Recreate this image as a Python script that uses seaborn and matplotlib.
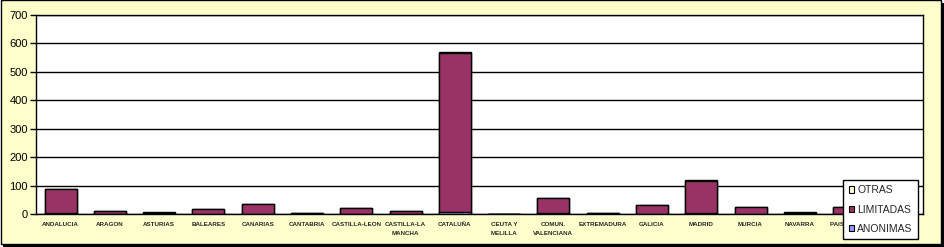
import matplotlib
matplotlib.use("Agg")
import matplotlib.pyplot as plt
from matplotlib.patches import Rectangle, Patch
import seaborn as sns
import pandas as pd
import numpy as np

categories = ["ANDALUCIA", "ARAGON", "ASTURIAS", "BALEARES", "CANARIAS", "CANTABRIA",
              "CASTILLA-LEON", "CASTILLA-LA\nMANCHA", "CATALUÑA", "CEUTA Y\nMELILLA",
              "COMUN.\nVALENCIANA", "EXTREMADURA", "GALICIA", "MADRID", "MURCIA",
              "NAVARRA", "PAIS VASCO", "LA RIOJA"]
anonimas = [5, 1, 2, 1, 1, 1, 1, 1, 8, 0, 2, 1, 1, 4, 1, 2, 1, 1]
limitadas = [82, 9, 3, 15, 34, 2, 20, 9, 557, 0, 53, 2, 31, 113, 23, 3, 23, 4]
otras = [1, 0, 1, 0, 0, 0, 0, 0, 6, 0, 0, 0, 0, 1, 0, 1, 0, 0]

yticks = [0, 100, 200, 300, 400, 500, 600, 700]

C_OTR = "#FFFFCC"
C_LIM = "#993366"
C_ANO = "#9999FF"

df = pd.DataFrame({"cat": categories, "ANONIMAS": anonimas,
                   "LIMITADAS": limitadas, "OTRAS": otras})
df["lev1"] = df["ANONIMAS"]
df["lev2"] = df["ANONIMAS"] + df["LIMITADAS"]
df["lev3"] = df["lev2"] + df["OTRAS"]

sns.set_theme(style="white")
plt.rcParams["font.family"] = ["Liberation Sans", "DejaVu Sans"]

W, H = 944, 247
fig = plt.figure(figsize=(W / 100, H / 100), dpi=100, facecolor="white")

# frame with shadow
fig.patches.append(Rectangle((3 / W, 0), 1 - 3 / W, 1 - 3 / H, transform=fig.transFigure,
                             facecolor="black", edgecolor="none", zorder=0))
fig.patches.append(Rectangle((0.5 / W, 3 / H), (941 - 1) / W, 1 - 3.5 / H,
                             transform=fig.transFigure, facecolor="#FFFFCC",
                             edgecolor="black", linewidth=1.0, zorder=1))

ax = fig.add_axes([36 / W, (H - 214) / H, (923 - 36) / W, (214 - 15) / H])
ax.set_facecolor("white")
ax.set_zorder(2)

bw = 0.65
sns.barplot(data=df, x="cat", y="lev3", order=categories, color=C_OTR, width=bw,
            edgecolor="black", linewidth=1.0, saturation=1, ax=ax, zorder=3)
sns.barplot(data=df, x="cat", y="lev2", order=categories, color=C_LIM, width=bw,
            edgecolor="black", linewidth=1.0, saturation=1, ax=ax, zorder=3)
sns.barplot(data=df, x="cat", y="lev1", order=categories, color=C_ANO, width=bw,
            edgecolor="black", linewidth=1.0, saturation=1, ax=ax, zorder=3)

ax.set_ylim(0, 700)
ax.set_xlim(-0.5, len(categories) - 0.5)
ax.set_yticks(yticks)
ax.set_yticklabels([str(v) for v in yticks], fontsize=8, color="black")
ax.yaxis.grid(True, color="black", linewidth=1.0)
ax.set_axisbelow(True)
ax.set_xlabel("")
ax.set_ylabel("")
ax.tick_params(axis="y", which="both", left=True, length=4, width=1, color="black", pad=2)
ax.tick_params(axis="x", which="both", bottom=False, length=0, pad=6)
for lbl in ax.get_xticklabels():
    lbl.set_fontsize(4.5)
    lbl.set_fontweight("bold")
    lbl.set_linespacing(1.8)
    lbl.set_verticalalignment("top")
for s in ax.spines.values():
    s.set_color("black")
    s.set_linewidth(1.0)
    s.set_visible(True)

handles = [Patch(facecolor=C_OTR, edgecolor="black", linewidth=0.8, label="OTRAS"),
           Patch(facecolor=C_LIM, edgecolor="black", linewidth=0.8, label="LIMITADAS"),
           Patch(facecolor=C_ANO, edgecolor="black", linewidth=0.8, label="ANONIMAS")]
leg = fig.legend(handles=handles, loc="upper right",
                 bbox_to_anchor=(918 / W, 1 - 180 / H), fontsize=7.5,
                 frameon=True, fancybox=False, shadow=False, borderpad=0.5,
                 handlelength=0.55, handleheight=0.55, handletextpad=0.3,
                 labelspacing=0.9, borderaxespad=0)
leg.get_frame().set_edgecolor("black")
leg.get_frame().set_linewidth(1.0)
leg.get_frame().set_facecolor("white")
leg.get_frame().set_alpha(1)
leg.set_zorder(10)

fig.savefig("out.png", dpi=100, facecolor=fig.get_facecolor())
